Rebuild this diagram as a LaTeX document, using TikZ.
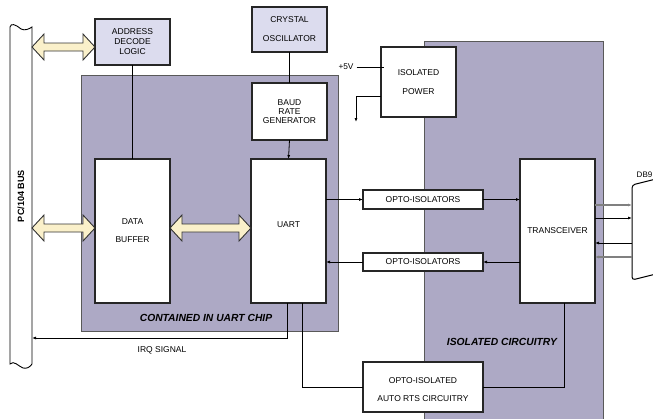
\documentclass[tikz,border=0pt]{standalone}
\usepackage{fontspec}
\setmainfont{Liberation Sans}
\usetikzlibrary{arrows.meta,calc}
\definecolor{regionc}{HTML}{ADA9C5}
\definecolor{lav}{HTML}{DCDCEE}
\definecolor{fatc}{HTML}{FAF0CA}
\newcommand\fatarrow[2]{%
  \filldraw[fat] let \p1=(#1), \p2=(#2) in
    (\x1,\y2) -- (\x1+12pt,\y2+13pt) -- (\x1+12pt,\y2+4pt) -- (\x2-12pt,\y2+4pt)
    -- (\x2-12pt,\y2+13pt) -- (\x2,\y2) -- (\x2-12pt,\y2-13pt) -- (\x2-12pt,\y2-4pt)
    -- (\x1+12pt,\y2-4pt) -- (\x1+12pt,\y2-13pt) -- cycle;}
\begin{document}
\begin{tikzpicture}[x=1pt,y=-1pt,
  region/.style={draw=black!65, line width=0.9pt, fill=regionc, inner sep=0pt, outer sep=0pt},
  blk/.style={draw=black!85, line width=1.1pt, fill=white, inner sep=0pt, outer sep=0pt,
     align=center, font=\fontsize{8.5}{10}\selectfont},
  lblk/.style={blk, fill=lav},
  ln/.style={line width=0.8pt},
  arr/.style={ln, -{Latex[length=4pt,width=3pt]}},
  garr/.style={line width=1.2pt, draw=black!50, -{Latex[length=4pt,width=3pt]}},
  fat/.style={draw=black!80, line width=0.9pt, fill=fatc},
  lbl/.style={font=\fontsize{8.5}{10}\selectfont, inner sep=0pt},
  bigl/.style={font=\fontsize{10.3}{12}\selectfont\bfseries\itshape, inner sep=0pt}]
\useasboundingbox (0,0) rectangle (653,418);

% regions
\node[region, minimum width=179, minimum height=378, anchor=north west] (iso) at (424,41) {};
\node[region, minimum width=257, minimum height=256, anchor=north west] (chip) at (81,75) {};

% bus
\node[minimum width=22, minimum height=336, inner sep=0pt, outer sep=0pt] (bus) at (21,196) {};
\draw[line width=0.9pt, fill=white]
  (10,364) -- (10,27) .. controls (11,23) and (15,24) .. (21,29)
  .. controls (25,31) and (29,29) .. (32,27) -- (32,364)
  .. controls (30,367) and (27,369) .. (23,368)
  .. controls (18,366) and (14,360) .. (10,364) -- cycle;
\node[rotate=90, font=\fontsize{9.1}{10}\selectfont\bfseries, inner sep=0pt] (buslbl) at (bus.center) {PC/104 BUS};

% boxes
\node[lblk, minimum width=75, minimum height=46, font=\fontsize{8.5}{10}\selectfont] (addr) at (132.5,42) {ADDRESS\\DECODE\\LOGIC};
\node[lblk, minimum width=75, minimum height=45, font=\fontsize{8.5}{19}\selectfont] (xtal) at (289.5,29.5) {CRYSTAL\\OSCILLATOR};
\node[blk, minimum width=75, minimum height=57, font=\fontsize{8.5}{9}\selectfont] (baud) at (289.5,111.5) {BAUD\\RATE\\GENERATOR};
\node[blk, minimum width=75, minimum height=70, font=\fontsize{8.5}{19}\selectfont] (power) at (418.5,82) {ISOLATED\\POWER};
\node[blk, minimum width=75, minimum height=144, font=\fontsize{8.5}{18}\selectfont] (databuf) at (132.5,231) {DATA\\BUFFER};
\node[blk, minimum width=75, minimum height=144] (uart) at (288.5,231) {};
\node[lbl] (uartlbl) at ([yshift=6pt]uart.center) {UART};
\node[blk, minimum width=120, minimum height=19] (opto1) at (423,199.5) {OPTO-ISOLATORS};
\node[blk, minimum width=120, minimum height=18] (opto2) at (423,262) {OPTO-ISOLATORS};
\node[blk, minimum width=75, minimum height=144] (xcvr) at (557.5,231) {TRANSCEIVER};
\node[blk, minimum width=120, minimum height=50, font=\fontsize{8.5}{18}\selectfont] (rts) at (423,387) {};
\node[lbl, align=center, font=\fontsize{8.5}{18}\selectfont] (rtslbl) at ([yshift=-3pt]rts.center) {OPTO-ISOLATED\\AUTO RTS CIRCUITRY};

% DB9 connector
\node[minimum width=21, minimum height=96, inner sep=0pt, outer sep=0pt] (db9) at (642.5,232) {};
\draw[line width=1pt, rounded corners=3pt] (656,179) -- (632,185) -- (632,280) -- (656,274);
\node[font=\fontsize{8}{9}\selectfont, inner sep=0pt] (db9lbl) at (644.5,175) {DB9};

% labels
\node[bigl] (chiplbl) at (206,318) {CONTAINED IN UART CHIP};
\node[bigl] (isolbl) at (502,342) {ISOLATED CIRCUITRY};
\node[lbl] (irqlbl) at (162,350) {IRQ SIGNAL};
\node[lbl, font=\fontsize{8.3}{10}\selectfont] (p5) at (346,67) {+5V};

% fat arrows
\fatarrow{bus.east}{[yshift=-5pt]addr.west}
\fatarrow{bus.east}{[yshift=3pt]databuf.west}
\fatarrow{databuf.east}{[yshift=3pt]uart.west}

% connectors
\draw[ln] (addr.south) -- (databuf.north);
\draw[ln] (xtal.south) -- (baud.north);
\draw[arr] (baud.south) -- (uart.north);
\draw[ln] ([xshift=3pt]p5.east) -- ([xshift=3pt]p5.east -| power.west);
\coordinate (gnd) at (356,122);
\draw[arr] ([yshift=-14pt]power.west) -| (gnd);

\draw[arr] (uart.east |- opto1) -- (opto1.west);
\draw[arr] (opto1.east) -- (opto1.east -| xcvr.west);
\draw[arr] (xcvr.west |- opto2) -- (opto2.east);
\draw[arr] (opto2.west) -- (opto2.west -| uart.east);

\coordinate (irq) at (287,338);
\draw[arr] (uart.south -| irq) -- (irq) -- (irq -| bus.east);
\coordinate (rtsc) at (302,387);
\draw[ln] (uart.south -| rtsc) -- (rtsc) -- (rts.west);
\draw[ln] (rts.east) -| ([xshift=6.5pt]xcvr.south);

\draw[garr] (xcvr.east |- 0,205) -- (db9.west |- 0,205);
\draw[arr] (xcvr.east |- 0,218) -- (db9.west |- 0,218);
\draw[arr] (db9.west |- 0,243) -- (xcvr.east |- 0,243);
\draw[garr] (db9.west |- 0,257) -- (xcvr.east |- 0,257);
\end{tikzpicture}
\end{document}
